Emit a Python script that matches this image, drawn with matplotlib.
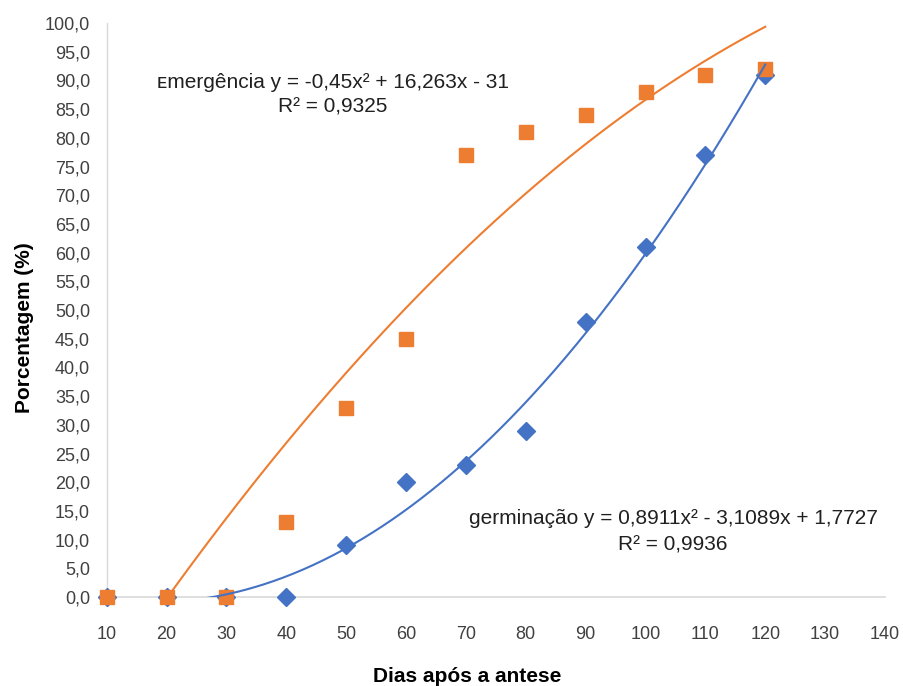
import matplotlib.pyplot as plt
import numpy as np

plt.rcParams['font.family'] = ['Liberation Sans', 'DejaVu Sans']

dias = [10, 20, 30, 40, 50, 60, 70, 80, 90, 100, 110, 120]
emergencia = [0, 0, 0, 13, 33, 45, 77, 81, 84, 88, 91, 92]
germinacao = [0, 0, 0, 0, 9, 20, 23, 29, 48, 61, 77, 91]

# trendline coefficients as printed on the chart (x = point index 1..12)
coef_emerg = [-0.45, 16.263, -31]
coef_germ = [0.8911, -3.1089, 1.7727]

laranja = '#ED7D31'
azul = '#4472C4'
texto = '#404040'

fig = plt.figure(figsize=(9.04, 6.86), dpi=100)
ax = fig.add_axes([0.118, 0.1297, 0.861, 0.8367])

ax.plot(dias, germinacao, 'D', color=azul, ms=9, clip_on=False, zorder=3)
ax.plot(dias, emergencia, 's', color=laranja, ms=9.5, clip_on=False, zorder=4)

xi = np.linspace(1, 12, 400)
ax.plot(xi * 10, np.polyval(coef_emerg, xi), color=laranja, lw=1.5, zorder=5)
ax.plot(xi * 10, np.polyval(coef_germ, xi), color=azul, lw=1.5, zorder=5)

ax.set_xlim(10, 140)
ax.set_ylim(0, 100)
ax.set_xticks(np.arange(10, 141, 10))
yt = np.arange(0, 101, 5)
ax.set_yticks(yt)
ax.set_yticklabels([f'{v:.1f}'.replace('.', ',') for v in yt])
ax.tick_params(length=0, labelsize=13, colors=texto)
ax.tick_params(axis='x', pad=21)
ax.tick_params(axis='y', pad=12)

for s in ['top', 'right']:
    ax.spines[s].set_visible(False)
ax.spines['left'].set_color('#D9D9D9')
ax.spines['bottom'].set_color('#D9D9D9')
ax.spines['left'].set_linewidth(1)
ax.spines['bottom'].set_linewidth(1.2)

ax.set_xlabel('Dias após a antese', fontsize=15, fontweight='bold', va='center')
ax.xaxis.set_label_coords(0.463, -0.138)
ax.set_ylabel('Porcentagem (%)', fontsize=15, fontweight='bold', va='center')
ax.yaxis.set_label_coords(-0.106, 0.469)

fig.text(333 / 904, 1 - 82 / 686, 'ᴇmergência y = -0,45x² + 16,263x - 31',
         ha='center', va='center', fontsize=15, color='#202020')
fig.text(333 / 904, 1 - 107 / 686, 'R² = 0,9325',
         ha='center', va='center', fontsize=15, color='#202020')
fig.text(673 / 904, 1 - 519 / 686, 'germinação y = 0,8911x² - 3,1089x + 1,7727',
         ha='center', va='center', fontsize=15, color='#202020')
fig.text(673 / 904, 1 - 545 / 686, 'R² = 0,9936',
         ha='center', va='center', fontsize=15, color='#202020')

fig.savefig('out.png', dpi=100)
